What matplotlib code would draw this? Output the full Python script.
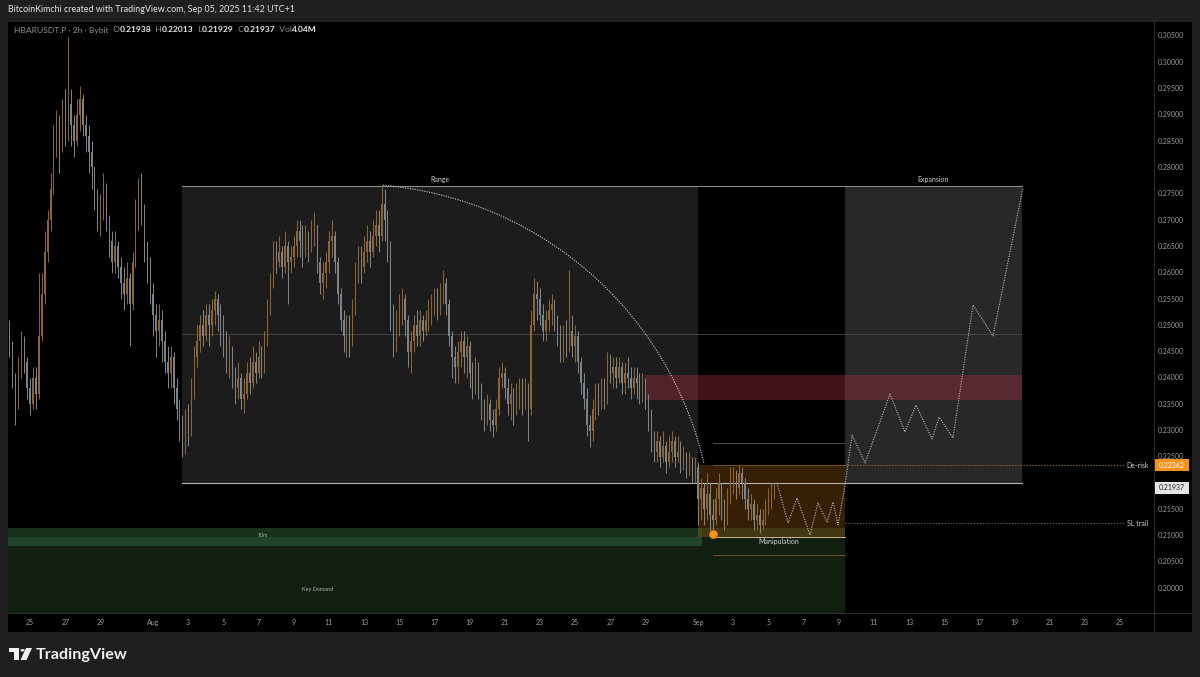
import numpy as np
import pandas as pd
import matplotlib
matplotlib.use('Agg')
import matplotlib.pyplot as plt
import matplotlib.dates as mdates
from matplotlib.patches import Rectangle, Polygon, Circle
from matplotlib.transforms import blended_transform_factory

# ---------------- data (prices in 1e-4 USDT) ----------------
first_open = 2480
close = [
    2450, 2400, 2350, 2420, 2470, 2430, 2380, 2350, 2400, 2370,
    2480, 2560, 2640, 2700, 2760, 2850, 2880, 2840, 2900, 2870,
    2920, 2880, 2850, 2900, 2930, 2880, 2860, 2830, 2800, 2740,
    2700, 2720, 2760, 2700, 2660, 2620, 2650, 2610, 2580, 2560,
    2590, 2540, 2620, 2700, 2740, 2720, 2650, 2620, 2560, 2520,
    2490, 2510, 2470, 2430, 2410, 2440, 2380, 2340, 2300, 2280,
    2320, 2300, 2380, 2440, 2470, 2500, 2480, 2520, 2500, 2530,
    2550, 2520, 2500, 2470, 2430, 2450, 2400, 2380, 2400, 2360,
    2370, 2410, 2390, 2430, 2410, 2440, 2420, 2470, 2530, 2580,
    2640, 2620, 2640, 2610, 2650, 2620, 2630, 2650, 2680, 2660,
    2640, 2670, 2650, 2680, 2690, 2620, 2580, 2600, 2620, 2660,
    2670, 2620, 2560, 2510, 2480, 2500, 2470, 2530, 2600, 2630,
    2610, 2640, 2660, 2640, 2670, 2690, 2670, 2730, 2700, 2650,
    2520, 2470, 2500, 2530, 2550, 2510, 2450, 2470, 2500, 2480,
    2510, 2490, 2510, 2520, 2540, 2550, 2530, 2560, 2580, 2540,
    2480, 2440, 2420, 2450, 2470, 2440, 2460, 2410, 2390, 2420,
    2380, 2340, 2330, 2350, 2320, 2310, 2340, 2400, 2410, 2380,
    2350, 2370, 2340, 2360, 2380, 2360, 2370, 2340, 2500, 2560,
    2550, 2520, 2490, 2510, 2530, 2540, 2510, 2480, 2450, 2470,
    2460, 2490, 2460, 2480, 2430, 2390, 2360, 2310, 2300, 2340,
    2370, 2350, 2380, 2360, 2430, 2410, 2420, 2400, 2420, 2390,
    2410, 2400, 2380, 2400, 2390, 2370, 2390, 2360, 2330, 2290,
    2260, 2280, 2250, 2270, 2240, 2260, 2280, 2250, 2260, 2240,
    2250, 2230, 2240, 2220, 2230, 2170, 2190, 2150, 2180, 2140,
    2130, 2170, 2200, 2150, 2130, 2170, 2200, 2210, 2190, 2220,
    2200, 2170, 2150, 2160, 2130, 2140, 2120, 2130, 2150, 2170,
    2190, 2194]
high = [
    2510, 2470, 2410, 2440, 2490, 2480, 2440, 2400, 2420, 2420,
    2600, 2600, 2680, 2720, 2790, 2880, 2910, 2900, 2930, 2950,
    3048, 2950, 2900, 2930, 2955, 2940, 2900, 2880, 2850, 2800,
    2760, 2750, 2790, 2770, 2710, 2680, 2680, 2660, 2630, 2610,
    2620, 2600, 2640, 2740, 2780, 2790, 2730, 2660, 2630, 2580,
    2540, 2540, 2530, 2490, 2460, 2460, 2450, 2400, 2360, 2330,
    2340, 2350, 2400, 2460, 2500, 2520, 2530, 2540, 2540, 2550,
    2565, 2560, 2540, 2520, 2490, 2480, 2460, 2420, 2430, 2410,
    2400, 2430, 2440, 2460, 2450, 2470, 2460, 2490, 2550, 2600,
    2660, 2660, 2670, 2650, 2680, 2660, 2650, 2670, 2700, 2700,
    2690, 2690, 2680, 2700, 2715, 2690, 2630, 2620, 2640, 2680,
    2700, 2680, 2630, 2570, 2530, 2520, 2520, 2550, 2620, 2650,
    2650, 2670, 2690, 2680, 2700, 2720, 2720, 2767, 2760, 2720,
    2660, 2540, 2530, 2560, 2570, 2560, 2520, 2490, 2520, 2530,
    2530, 2520, 2530, 2550, 2560, 2570, 2570, 2580, 2605, 2590,
    2550, 2490, 2460, 2470, 2490, 2490, 2480, 2470, 2430, 2440,
    2430, 2390, 2360, 2370, 2360, 2340, 2360, 2420, 2430, 2420,
    2400, 2390, 2380, 2390, 2400, 2400, 2400, 2390, 2530, 2590,
    2585, 2570, 2540, 2530, 2550, 2560, 2550, 2520, 2500, 2500,
    2510, 2605, 2520, 2500, 2490, 2440, 2410, 2380, 2330, 2360,
    2390, 2390, 2400, 2400, 2450, 2445, 2440, 2440, 2440, 2430,
    2430, 2440, 2420, 2420, 2420, 2410, 2410, 2400, 2370, 2340,
    2300, 2300, 2290, 2300, 2280, 2290, 2300, 2290, 2290, 2280,
    2270, 2260, 2260, 2250, 2250, 2240, 2210, 2200, 2220, 2200,
    2170, 2190, 2220, 2200, 2170, 2190, 2230, 2230, 2225, 2235,
    2230, 2210, 2190, 2180, 2170, 2160, 2150, 2150, 2170, 2190,
    2200, 2201]
low = [
    2440, 2380, 2310, 2340, 2400, 2410, 2360, 2330, 2340, 2340,
    2360, 2470, 2540, 2620, 2680, 2750, 2820, 2790, 2830, 2840,
    2850, 2840, 2820, 2840, 2870, 2860, 2830, 2790, 2760, 2720,
    2680, 2670, 2700, 2680, 2630, 2600, 2600, 2590, 2550, 2530,
    2540, 2460, 2530, 2610, 2680, 2690, 2620, 2580, 2540, 2480,
    2440, 2460, 2430, 2410, 2380, 2380, 2350, 2320, 2280, 2250,
    2256, 2270, 2290, 2360, 2420, 2450, 2460, 2470, 2460, 2480,
    2500, 2490, 2460, 2440, 2410, 2400, 2380, 2350, 2360, 2340,
    2333, 2360, 2370, 2380, 2390, 2400, 2400, 2410, 2460, 2520,
    2570, 2600, 2610, 2590, 2600, 2540, 2600, 2610, 2630, 2630,
    2610, 2630, 2620, 2640, 2650, 2600, 2560, 2550, 2570, 2600,
    2630, 2600, 2540, 2490, 2450, 2440, 2440, 2460, 2520, 2580,
    2580, 2600, 2620, 2610, 2630, 2650, 2640, 2660, 2660, 2620,
    2490, 2440, 2450, 2480, 2500, 2480, 2420, 2410, 2450, 2460,
    2460, 2470, 2480, 2490, 2500, 2520, 2510, 2520, 2540, 2520,
    2460, 2400, 2390, 2390, 2420, 2410, 2400, 2380, 2360, 2370,
    2360, 2320, 2300, 2310, 2300, 2288, 2300, 2330, 2380, 2360,
    2330, 2320, 2310, 2330, 2340, 2330, 2340, 2280, 2330, 2490,
    2510, 2500, 2470, 2470, 2490, 2500, 2490, 2460, 2430, 2430,
    2440, 2450, 2440, 2430, 2410, 2370, 2340, 2290, 2268, 2280,
    2320, 2330, 2340, 2340, 2350, 2390, 2380, 2380, 2390, 2370,
    2370, 2380, 2360, 2370, 2360, 2350, 2355, 2340, 2300, 2260,
    2240, 2240, 2230, 2240, 2220, 2230, 2240, 2230, 2240, 2220,
    2225, 2210, 2215, 2200, 2200, 2120, 2130, 2120, 2130, 2110,
    2105, 2120, 2140, 2130, 2110, 2120, 2160, 2180, 2170, 2180,
    2170, 2150, 2130, 2130, 2110, 2110, 2106, 2110, 2120, 2140,
    2150, 2170]
candle_start = '2025-07-23 20:00'
candle_freq = '4h'

price_ticks = [0.200, 0.205, 0.210, 0.215, 0.225, 0.230, 0.235, 0.240, 0.245,
               0.250, 0.255, 0.260, 0.265, 0.270, 0.275, 0.280, 0.285, 0.290,
               0.295, 0.300, 0.305]
date_ticks = ['2025-07-25', '2025-07-27', '2025-07-29', '2025-08-01', '2025-08-03',
              '2025-08-05', '2025-08-07', '2025-08-09', '2025-08-11', '2025-08-13',
              '2025-08-15', '2025-08-17', '2025-08-19', '2025-08-21', '2025-08-23',
              '2025-08-25', '2025-08-27', '2025-08-29', '2025-09-01', '2025-09-03',
              '2025-09-05', '2025-09-07', '2025-09-09', '2025-09-11', '2025-09-13',
              '2025-09-15', '2025-09-17', '2025-09-19', '2025-09-21', '2025-09-23',
              '2025-09-25']
date_labels = ['25', '27', '29', 'Aug', '3', '5', '7', '9', '11', '13', '15', '17',
               '19', '21', '23', '25', '27', '29', 'Sep', '3', '5', '7', '9', '11',
               '13', '15', '17', '19', '21', '23', '25']

# drawing anchors (time, price)
range_start, range_end = '2025-08-02 16:00', '2025-09-01 00:00'
exp_start, exp_end = '2025-09-09 08:00', '2025-09-19 10:00'
range_top, range_bot, range_mid = 0.2765, 0.2200, 0.24833
supply_start, supply_lo, supply_hi = '2025-08-29 00:00', 0.2358, 0.2406
manip_lo, manip_hi = 0.2098, 0.22342
manip_line_start = '2025-09-01 20:00'
manip_upper_line, manip_lower_line = 0.22762, 0.20633
derisk_price, sl_trail_price = 0.22342, 0.21241
levels_end = '2025-09-25 07:00'
demand_start, tenm_end = '2025-07-23 00:00', '2025-09-01 06:00'
demand_top, tenm_bot, tenm_stripe = 0.21147, 0.20804, 0.20975
last_price = 0.21937
arc_center = ('2025-08-12 09:00', 0.20842)
arc_days, arc_price = 20.48, 0.06844
arc_from, arc_to = 85.2, 12.9
proj_days = [42.49, 43.12, 43.63, 44.37, 44.82, 45.34, 45.68, 45.96, 46.36, 46.76,
             47.50, 48.92, 49.77, 50.40, 51.31, 51.71, 52.50, 53.64, 54.78, 56.48]
proj_prices = [0.22002, 0.21241, 0.21717, 0.21013, 0.21622, 0.21261, 0.21641,
               0.21204, 0.21964, 0.22914, 0.22382, 0.23694, 0.22971, 0.23485,
               0.22838, 0.23256, 0.22857, 0.25386, 0.24797, 0.27610]
day0 = '2025-07-25'

# ---------------- figure ----------------
W, H = 1200, 677
fig = plt.figure(figsize=(12, 6.77), dpi=100)
fig.patch.set_facecolor('#1f1f1f')


def fx(px):
    return px / W


def fy(py):
    return 1 - py / H


def T(ts):
    return mdates.date2num(pd.Timestamp(ts))


FONT = ['Lato', 'DejaVu Sans']

panel = fig.add_axes([fx(8), fy(632), (1192 - 8) / W, (632 - 22) / H])
panel.set_facecolor('black')
panel.set_xticks([]); panel.set_yticks([])
for s in panel.spines.values():
    s.set_visible(False)

ax = fig.add_axes([fx(8), fy(613), (1154 - 8) / W, (613 - 22) / H])
ax.set_facecolor('none')
for s in ax.spines.values():
    s.set_visible(False)
ax.set_xticks([]); ax.set_yticks([])
b0 = T(day0)
ax.set_xlim(b0 + (8 - 30) / 17.58, b0 + (1154 - 30) / 17.58)
ax.set_ylim(0.305 - (613 - 36) / 5260, 0.305 + (36 - 22) / 5260)

# separators
fig.add_artist(plt.Line2D([fx(1154), fx(1154)], [fy(22), fy(632)], color='#2a2a2a', lw=0.8))
fig.add_artist(plt.Line2D([fx(8), fx(1192)], [fy(613), fy(613)], color='#2a2a2a', lw=0.8))

# ---------------- zones ----------------
xr0, xr1 = T(range_start), T(range_end)
xe0, xe1 = T(exp_start), T(exp_end)
ax.add_patch(Rectangle((T(demand_start), 0.19), xe0 - T(demand_start), demand_top - 0.19,
                       facecolor='#101f10', edgecolor='none', zorder=1))
ax.add_patch(Rectangle((T(demand_start), tenm_bot), T(tenm_end) - T(demand_start),
                       demand_top - tenm_bot, facecolor='#19301a', edgecolor='none', zorder=1.1))
ax.add_patch(Rectangle((T(demand_start), tenm_bot), T(tenm_end) - T(demand_start),
                       tenm_stripe - tenm_bot, facecolor='#22442a', edgecolor='none', zorder=1.2))
ax.add_patch(Rectangle((xr0, range_bot), xr1 - xr0, range_top - range_bot,
                       facecolor='#1c1c1c', edgecolor='none', zorder=1))
ax.add_patch(Rectangle((xe0, range_bot), xe1 - xe0, range_top - range_bot,
                       facecolor='#282828', edgecolor='none', zorder=1))
ax.add_patch(Rectangle((T(supply_start), supply_lo), xe1 - T(supply_start), supply_hi - supply_lo,
                       facecolor='#9a2f40', alpha=0.42, edgecolor='none', zorder=1.5))
ax.add_patch(Rectangle((xr1, manip_lo), xe0 - xr1, manip_hi - manip_lo,
                       facecolor='#f7931a', alpha=0.22, edgecolor='none', zorder=1.5))

ax.plot([xr0, xe1], [range_top, range_top], color='#8a8a8a', lw=0.8, zorder=2)
ax.plot([xr0, xe1], [range_bot, range_bot], color='#b5b5b5', lw=0.8, zorder=2)
ax.plot([xr0, xe1], [range_mid, range_mid], color='#4a4a4a', lw=0.6, zorder=2)

xm = T(manip_line_start)
ax.plot([xm, xe0], [manip_upper_line, manip_upper_line], color='#4e4e4e', lw=0.7, zorder=2)
ax.plot([xm, xe0], [manip_lower_line, manip_lower_line], color='#6e5420', lw=0.7, zorder=2)
ax.plot([xm, xe0], [manip_lo, manip_lo], color='#c9b48c', lw=0.7, zorder=2)
ax.plot([xm, xe0], [manip_hi, manip_hi], color='#7a5a2a', lw=0.6, zorder=2)
xl1 = T(levels_end)
ax.plot([xe0, xl1], [derisk_price, derisk_price], color='#8a6a35', lw=0.7, ls=(0, (1.5, 1.5)), zorder=2)
ax.plot([xe0, xl1], [sl_trail_price, sl_trail_price], color='#5a5a5a', lw=0.7, ls=(0, (1.5, 1.5)), zorder=2)

# ---------------- candles ----------------
times = pd.date_range(candle_start, periods=len(close), freq=candle_freq)
x = mdates.date2num(times.to_pydatetime())
c = np.array(close) / 1e4
o = np.concatenate([[first_open], close[:-1]]) / 1e4
h = np.maximum(np.array(high) / 1e4, np.maximum(o, c))
l = np.minimum(np.array(low) / 1e4, np.minimum(o, c))
up = c >= o
cols = np.where(up, '#8e6431', '#7d838b')
ax.vlines(x, l, h, colors=cols, lw=0.75, zorder=3)
ax.bar(x, np.where(np.abs(c - o) < 0.0003, 0.0003, c - o), bottom=o, width=0.065,
       color=cols, edgecolor='none', zorder=3)

# ---------------- arc and projection ----------------
t = np.radians(np.linspace(arc_from, arc_to, 200))
ax.plot(T(arc_center[0]) + arc_days * np.cos(t), arc_center[1] + arc_price * np.sin(t),
        color='#d0d0d0', lw=0.8, ls=(0, (1, 1.2)), zorder=4)
ax.plot(b0 + np.array(proj_days), proj_prices, color='#bdbdbd', lw=0.8,
        ls=(0, (1, 1.2)), zorder=4)
ax.plot([xm], [0.21033], 'o', color='#f7931a', ms=6, mec='#c06a00', mew=0.5, zorder=5)

# ---------------- labels ----------------
ax.text((xr0 + xr1) / 2, range_top + 0.0006, 'Range', color='#cfcfcf', fontsize=5,
        family=FONT, ha='center', va='bottom', zorder=6)
ax.text((xe0 + xe1) / 2, range_top + 0.0006, 'Expansion', color='#cfcfcf', fontsize=5,
        family=FONT, ha='center', va='bottom', zorder=6)
ax.text((xm + xe0) / 2, manip_lo - 0.0003, 'Manipulation', color='#d0d0d0', fontsize=5,
        family=FONT, ha='center', va='top', zorder=6)
ax.text(b0 + (263 - 30) / 17.58, (demand_top + tenm_bot) / 2 + 0.0003, '10m', color='#9fb09f',
        fontsize=3.8, family=FONT, ha='center', va='center', zorder=6)
ax.text(b0 + (318 - 30) / 17.58, 0.305 - (590 - 36) / 5260, 'Key Demand', color='#a8b8a8',
        fontsize=4, family=FONT, ha='center', va='center', zorder=6)
ax.text(xl1 + 0.1, derisk_price, 'De-risk', color='#d0d0d0', fontsize=5,
        family=FONT, ha='left', va='center', zorder=6)
ax.text(xl1 + 0.1, sl_trail_price, 'SL trail', color='#d0d0d0', fontsize=5,
        family=FONT, ha='left', va='center', zorder=6)

ytr = blended_transform_factory(ax.transAxes, ax.transData)
for p in price_ticks:
    ax.text(1 + 4 / 1146, p, f'{p:.5f}', transform=ytr, color='#9a9a9a', fontsize=5,
            family=FONT, ha='left', va='center', clip_on=False)
xtr = blended_transform_factory(ax.transData, ax.transAxes)
for d, lab in zip(date_ticks, date_labels):
    ax.text(T(d), -9.5 / 591, lab, transform=xtr, color='#a0a0a0', fontsize=5,
            family=FONT, ha='center', va='center', clip_on=False)

# price axis badges
for py, txt, fc, tc in [(465, f'{derisk_price:.5f}', '#f7931a', '#ffffff'),
                        (488, f'{last_price:.5f}', '#e6e6e6', '#1a1a1a')]:
    fig.add_artist(Rectangle((fx(1155), fy(py + 6)), 34 / W, 12 / H, transform=fig.transFigure,
                             facecolor=fc, edgecolor='none', zorder=7))
    fig.text(fx(1172), fy(py), txt, color=tc, fontsize=5, family=FONT, ha='center',
             va='center', zorder=8)

# header
fig.text(fx(8), fy(10), 'BitcoinKimchi created with TradingView.com, Sep 05, 2025 11:42 UTC+1',
         color='#e6e6e6', fontsize=6.4, family=FONT, ha='left', va='center')
pieces = [('HBARUSDT.P \u00b7 2h \u00b7 Bybit', '#8f8f8f'), ('  O', '#8f8f8f'), ('0.21938', '#e8e8e8'),
          ('  H', '#8f8f8f'), ('0.22013', '#e8e8e8'), ('  L', '#8f8f8f'), ('0.21929', '#e8e8e8'),
          ('  C', '#8f8f8f'), ('0.21937', '#e8e8e8'), ('  Vol', '#8f8f8f'), ('4.04M', '#e8e8e8')]
HS = 6.1
prev = fig.text(fx(14), fy(30), pieces[0][0], color=pieces[0][1], fontsize=HS, family=FONT,
                ha='left', va='center')
for s, col in pieces[1:]:
    prev = ax.annotate(s, xy=(1, 0), xycoords=prev, xytext=(0, 0), textcoords='offset points',
                       color=col, fontsize=HS, family=FONT, ha='left', va='bottom',
                       weight='bold' if col == '#e8e8e8' else 'normal', annotation_clip=False)

# footer logo
logo_col = '#f0f0f0'
fig.add_artist(Polygon([(fx(9), fy(648)), (fx(19), fy(648)), (fx(19), fy(660)), (fx(14), fy(660)),
                        (fx(14), fy(652)), (fx(9), fy(652))], closed=True, transform=fig.transFigure,
                       facecolor=logo_col, edgecolor='none'))
fig.add_artist(Circle((fx(22.5), fy(650.3)), 2.2 / W, transform=fig.transFigure,
                      facecolor=logo_col, edgecolor='none'))
fig.add_artist(Polygon([(fx(26), fy(648)), (fx(32), fy(648)), (fx(26.5), fy(660)), (fx(20.5), fy(660))],
                       closed=True, transform=fig.transFigure, facecolor=logo_col, edgecolor='none'))
fig.text(fx(36), fy(654.5), 'TradingView', color=logo_col, fontsize=11.6, family=FONT,
         weight='bold', ha='left', va='center')

fig.savefig('out.png', dpi=100, facecolor=fig.get_facecolor())
